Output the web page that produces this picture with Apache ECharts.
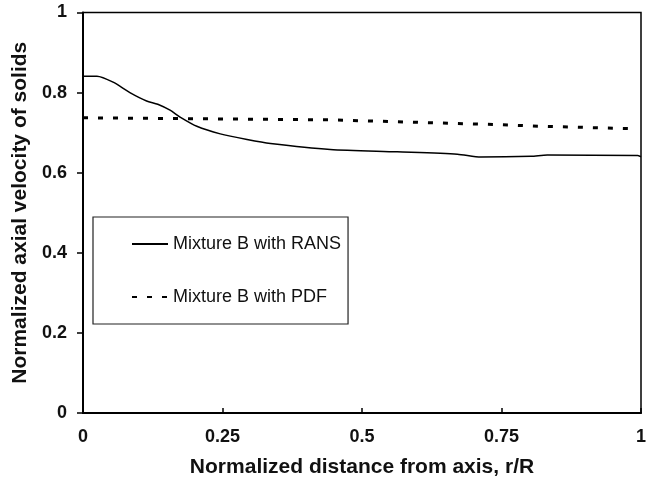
<!DOCTYPE html>
<html>
<head>
<meta charset="utf-8">
<script src="https://cdn.jsdelivr.net/npm/echarts@6/dist/echarts.min.js"></script>
<style>
  html, body { margin: 0; padding: 0; background: #fff; }
  #chart { width: 657px; height: 490px; }
</style>
</head>
<body>
<div id="chart"></div>
<script>
// Radial profile of normalized axial solids velocity (r/R vs. u/u0)
const seriesNames = ['Mixture B with RANS', 'Mixture B with PDF'];

const ransR = [0, 0.025, 0.054, 0.084, 0.114, 0.134, 0.156, 0.174, 0.204, 0.246, 0.294, 0.336, 0.443, 0.563, 0.671, 0.713, 0.803, 0.832, 0.994, 1];
const ransV = [0.841, 0.841, 0.826, 0.800, 0.779, 0.771, 0.756, 0.739, 0.716, 0.697, 0.683, 0.673, 0.658, 0.652, 0.646, 0.639, 0.641, 0.644, 0.643, 0.640];

const pdfR = [0, 0.443, 0.743, 0.82, 0.982];
const pdfV = [0.737, 0.732, 0.720, 0.716, 0.710];

const xTicks = [0, 0.25, 0.5, 0.75, 1];
const yTicks = [0, 0.2, 0.4, 0.6, 0.8, 1];

const pairs = (xs, ys) => xs.map((x, i) => [x, ys[i]]);

const chart = echarts.init(document.getElementById('chart'), null, { renderer: 'canvas' });

const font = 'Liberation Sans, Arial, sans-serif';

chart.setOption({
  animation: false,
  backgroundColor: '#fff',
  grid: {
    left: 83, right: 16, top: 12.5, bottom: 77,
    show: true, borderColor: '#000', borderWidth: 1.5
  },
  legend: {
    orient: 'vertical',
    left: 93, top: 217,
    padding: [18, 7, 18, 38],
    itemGap: 35,
    itemWidth: 36, itemHeight: 18,
    borderColor: '#222', borderWidth: 1.2,
    backgroundColor: '#fff',
    itemStyle: { opacity: 0 },
    textStyle: { fontFamily: font, fontSize: 18, color: '#111' },
    data: seriesNames
  },
  xAxis: {
    type: 'value',
    min: xTicks[0], max: xTicks[xTicks.length - 1], interval: 0.25,
    name: 'Normalized distance from axis, r/R',
    nameLocation: 'middle', nameGap: 44,
    nameTextStyle: { fontFamily: font, fontSize: 21, fontWeight: 'bold', color: '#111' },
    axisLine: { lineStyle: { color: '#000', width: 2 } },
    axisTick: { inside: true, length: 5, lineStyle: { color: '#000', width: 1.5 } },
    axisLabel: {
      margin: 15, fontFamily: font, fontSize: 18, fontWeight: 'bold', color: '#111',
      formatter: v => String(v)
    },
    splitLine: { show: false }
  },
  yAxis: {
    type: 'value',
    min: yTicks[0], max: yTicks[yTicks.length - 1], interval: 0.2,
    name: 'Normalized axial velocity of solids',
    nameLocation: 'middle', nameGap: 47,
    nameTextStyle: { fontFamily: font, fontSize: 21, fontWeight: 'bold', color: '#111' },
    axisLine: { lineStyle: { color: '#000', width: 2 } },
    axisTick: { length: 6, lineStyle: { color: '#000', width: 1.5 } },
    axisLabel: {
      margin: 16, fontFamily: font, fontSize: 18, fontWeight: 'bold', color: '#111',
      formatter: v => String(+v.toFixed(1))
    },
    splitLine: { show: false }
  },
  series: [
    {
      name: seriesNames[0],
      type: 'line',
      data: pairs(ransR, ransV),
      smooth: 0.25,
      symbol: 'none',
      lineStyle: { color: '#000', width: 1.5 },
      itemStyle: { color: '#000' }
    },
    {
      name: seriesNames[1],
      type: 'line',
      data: pairs(pdfR, pdfV),
      symbol: 'none',
      lineStyle: { color: '#000', width: 3, type: [5, 10] },
      itemStyle: { color: '#000' }
    }
  ]
});
</script>
</body>
</html>
